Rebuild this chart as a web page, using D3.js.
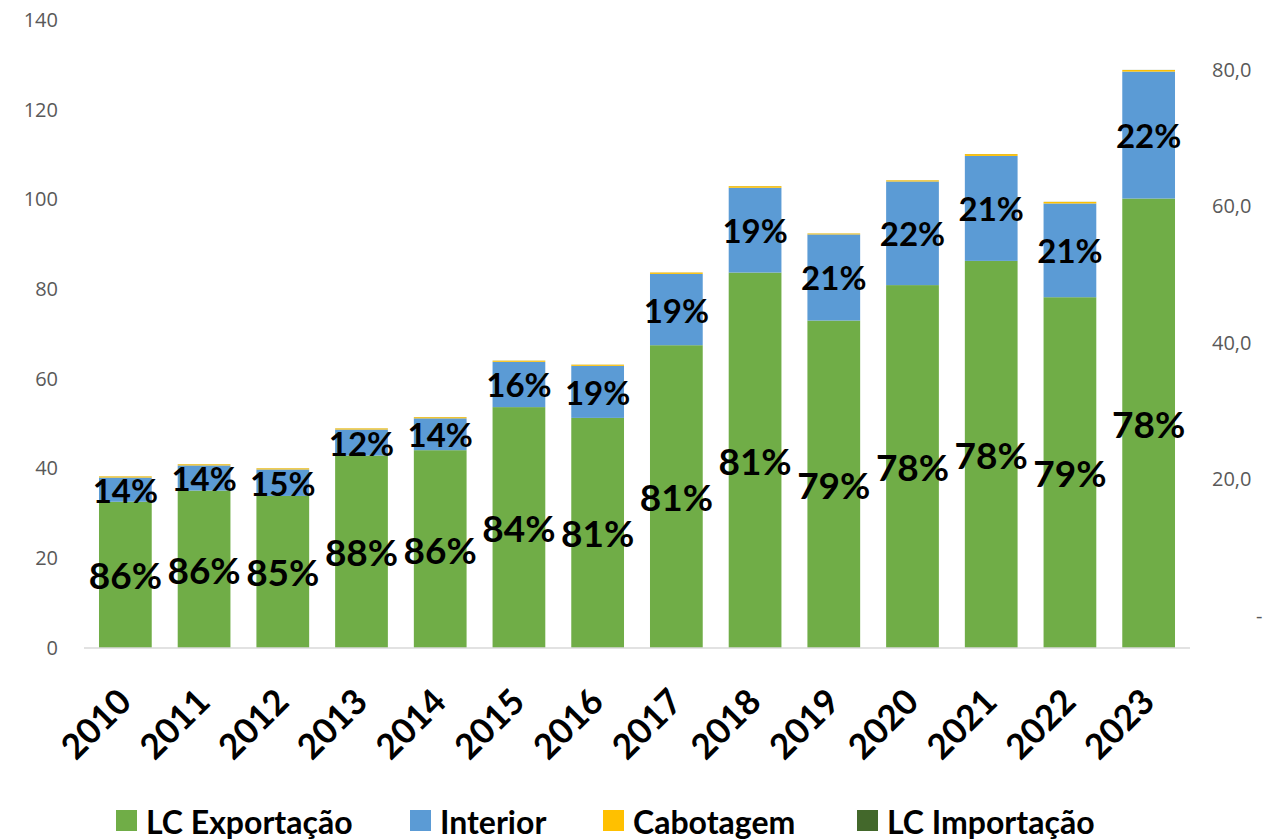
<!DOCTYPE html>
<html>
<head>
<meta charset="utf-8">
<script src="https://cdn.jsdelivr.net/npm/d3@7"></script>
<style>
  body { margin: 0; background: #fff; }
  svg { display: block; }
</style>
</head>
<body>
<svg id="canvas" width="1271" height="839"></svg>
<script>
// values (millions of tonnes, roughly)
const YEARS = ["2010", "2011", "2012", "2013", "2014", "2015", "2016",
               "2017", "2018", "2019", "2020", "2021", "2022", "2023"];
const LC_EXPORT = [32.6, 35.1, 33.9, 42.9, 44.1, 53.7, 51.3, 67.5, 83.7, 73.0, 80.9, 86.3, 78.2, 100.2];
const INTERIOR = [5.4, 5.6, 5.9, 5.8, 7.1, 10.1, 11.6, 15.9, 18.9, 19.2, 23.1, 23.4, 20.9, 28.3];
const CABOTAGEM = [0.25, 0.25, 0.25, 0.25, 0.25, 0.25, 0.25, 0.3, 0.35, 0.2, 0.25, 0.4, 0.35, 0.35];
const LC_IMPORT = [0.02, 0.02, 0.02, 0.02, 0.02, 0.02, 0.02, 0.02, 0.02, 0.02, 0.02, 0.02, 0.02, 0.02];

const EXPORT_LABELS = ["86%", "86%", "85%", "88%", "86%", "84%", "81%", "81%", "81%", "79%", "78%", "78%", "79%", "78%"];
const INTERIOR_LABELS = ["14%", "14%", "15%", "12%", "14%", "16%", "19%", "19%", "19%", "21%", "22%", "21%", "21%", "22%"];

const LEFT_TICKS = [0, 20, 40, 60, 80, 100, 120, 140];
const RIGHT_TICKS = [0, 20, 40, 60, 80];
const RIGHT_LABELS = ["-", "20,0", "40,0", "60,0", "80,0"];

const SERIES = ["LC Exportação", "Interior", "Cabotagem", "LC Importação"];
const COLORS = ["#70ad47", "#5b9bd5", "#ffc000", "#43682b"];

const CANVAS = d3.select("#canvas");
const BOLD = "Lato, 'Open Sans', sans-serif";
const AXISFONT = "'Open Sans', sans-serif";

var x = d3.scaleBand()
  .domain(YEARS)
  .range([86, 1188])
  .paddingInner(0.33)
  .paddingOuter(0.165);

var y = d3.scaleLinear()
  .domain([0, 140])
  .range([648, 20]);

var y2 = d3.scaleLinear()
  .domain([0, 80])
  .range([616, 70]);

// stacked data
var rows = YEARS.map((yr, i) => ({
  year: yr,
  "LC Exportação": LC_EXPORT[i],
  "Interior": INTERIOR[i],
  "Cabotagem": CABOTAGEM[i],
  "LC Importação": LC_IMPORT[i]
}));
var stack = d3.stack().keys(SERIES)(rows);

// left axis labels
var leftAxis = CANVAS.append("g")
  .attr("transform", "translate(58,0)")
  .call(d3.axisLeft(y).tickValues(LEFT_TICKS).tickSize(0).tickPadding(0));
leftAxis.select(".domain").remove();
leftAxis.selectAll("text")
  .style("font-family", AXISFONT)
  .style("font-size", "20px")
  .style("fill", "#595959");

// right axis labels
var rightAxis = CANVAS.append("g")
  .attr("transform", "translate(1212,0)")
  .call(d3.axisRight(y2).tickValues(RIGHT_TICKS).tickSize(0).tickPadding(0)
    .tickFormat((d, i) => RIGHT_LABELS[i]));
rightAxis.select(".domain").remove();
rightAxis.selectAll("text")
  .style("font-family", AXISFONT)
  .style("font-size", "20px")
  .style("fill", "#595959")
  .attr("x", (d) => d === 0 ? 44 : 0);

// bars
stack.forEach((layer, k) => {
  CANVAS.append("g")
    .selectAll("rect")
    .data(layer)
    .join("rect")
    .attr("x", (d) => x(d.data.year))
    .attr("width", x.bandwidth())
    .attr("y", (d) => y(d[1]))
    .attr("height", (d) => y(d[0]) - y(d[1]))
    .style("fill", COLORS[k]);
});

// baseline
CANVAS.append("line")
  .attr("x1", 84).attr("x2", 1190)
  .attr("y1", y(0)).attr("y2", y(0))
  .style("stroke", "#d9d9d9")
  .style("stroke-width", 1.5);

// percentage labels
CANVAS.append("g")
  .selectAll("text")
  .data(stack[0])
  .join("text")
  .attr("x", (d) => x(d.data.year) + x.bandwidth() / 2)
  .attr("y", (d) => y((d[0] + d[1]) / 2))
  .attr("text-anchor", "middle")
  .attr("dominant-baseline", "central")
  .style("font-family", BOLD)
  .style("font-weight", "bold")
  .style("font-size", "37px")
  .text((d, i) => EXPORT_LABELS[i]);

CANVAS.append("g")
  .selectAll("text")
  .data(stack[1])
  .join("text")
  .attr("x", (d) => x(d.data.year) + x.bandwidth() / 2)
  .attr("y", (d) => y((d[0] + d[1]) / 2))
  .attr("text-anchor", "middle")
  .attr("dominant-baseline", "central")
  .style("font-family", BOLD)
  .style("font-weight", "bold")
  .style("font-size", "33px")
  .text((d, i) => INTERIOR_LABELS[i]);

// year labels, rotated
CANVAS.append("g")
  .selectAll("text")
  .data(YEARS)
  .join("text")
  .attr("transform", (d) => `translate(${x(d) + x.bandwidth() / 2 + 8},${y(0) + 56}) rotate(-45)`)
  .attr("text-anchor", "end")
  .style("font-family", BOLD)
  .style("font-weight", "bold")
  .style("font-size", "35px")
  .text((d) => d);

// legend
var LEGEND_X = [116, 410, 603, 857];
var legend = CANVAS.append("g")
  .selectAll("g")
  .data(SERIES)
  .join("g")
  .attr("transform", (d, i) => `translate(${LEGEND_X[i]},810)`);
legend.append("rect")
  .attr("width", 21).attr("height", 21)
  .style("fill", (d, i) => COLORS[i]);
legend.append("text")
  .attr("x", 30).attr("y", 11)
  .attr("dominant-baseline", "central")
  .style("font-family", BOLD)
  .style("font-weight", "bold")
  .style("font-size", "32px")
  .text((d) => d);
</script>
</body>
</html>
